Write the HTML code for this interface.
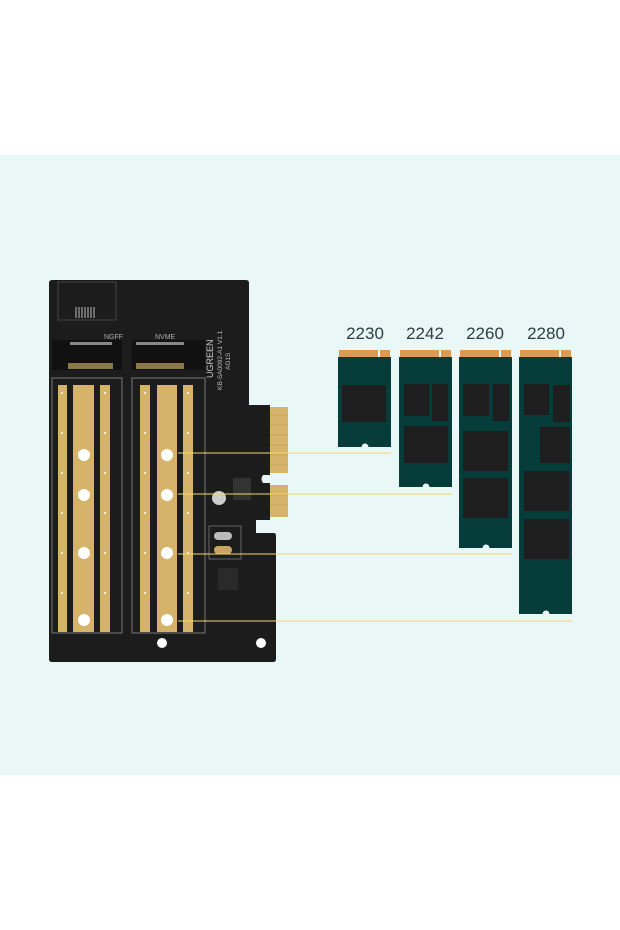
<!DOCTYPE html>
<html><head><meta charset="utf-8"><style>
html,body{margin:0;padding:0;background:#fff;width:620px;height:930px;overflow:hidden}
svg{display:block}
</style></head><body>
<svg width="620" height="930" xmlns="http://www.w3.org/2000/svg" font-family="Liberation Sans, sans-serif">
<rect x="0" y="0" width="620" height="930" fill="#fff"/>
<rect x="0" y="155" width="620" height="620" fill="#e9f7f7"/>
<path d="M52,280 L246,280 Q249,280 249,283 L249,405 L270,405 L270,475 L263,475 Q260,479 263,483 L270,483 L270,520 L256,520 L256,533 L274,533 Q276,533 276,536 L276,659 Q276,662 273,662 L52,662 Q49,662 49,659 L49,283 Q49,280 52,280 Z" fill="#1c1c1c"/>
<rect x="270" y="407" width="18" height="66" fill="#d6b36a"/>
<rect x="270" y="485" width="18" height="32" fill="#d6b36a"/>
<g stroke="#b8954e" stroke-width="0.6">
<line x1="270" y1="415" x2="288" y2="415"/><line x1="270" y1="425" x2="288" y2="425"/><line x1="270" y1="435" x2="288" y2="435"/><line x1="270" y1="445" x2="288" y2="445"/><line x1="270" y1="455" x2="288" y2="455"/><line x1="270" y1="465" x2="288" y2="465"/><line x1="270" y1="495" x2="288" y2="495"/><line x1="270" y1="505" x2="288" y2="505"/>
</g>
<rect x="58" y="282" width="58" height="38" fill="none" stroke="#444" stroke-width="1"/>
<g stroke="#bbb" stroke-width="1"><line x1="76" y1="307" x2="76" y2="318"/><line x1="79" y1="307" x2="79" y2="318"/><line x1="82" y1="307" x2="82" y2="318"/><line x1="85" y1="307" x2="85" y2="318"/><line x1="88" y1="307" x2="88" y2="318"/><line x1="91" y1="307" x2="91" y2="318"/><line x1="94" y1="307" x2="94" y2="318"/></g>
<text x="104" y="339" font-size="7" fill="#aaa">NGFF</text>
<text x="155" y="339" font-size="7" fill="#aaa">NVME</text>
<rect x="52" y="340" width="70" height="30" fill="#111"/>
<rect x="132" y="340" width="73" height="30" fill="#111"/>
<rect x="70" y="342" width="42" height="3" fill="#888"/>
<rect x="136" y="342" width="48" height="3" fill="#888"/>
<rect x="68" y="363" width="45" height="6" fill="#8a7a4a"/>
<rect x="136" y="363" width="48" height="6" fill="#8a7a4a"/>
<text x="0" y="0" font-size="9" fill="#ccc" transform="translate(213,378) rotate(-90)">UGREEN</text>
<text x="0" y="0" font-size="6.5" fill="#bbb" transform="translate(222,390) rotate(-90)">KB-SA0092-A1 V1.1</text>
<text x="0" y="0" font-size="6.5" fill="#bbb" transform="translate(230,370) rotate(-90)">AG1S</text>
<rect x="52" y="378" width="70" height="255" fill="none" stroke="#777" stroke-width="1"/>
<rect x="132" y="378" width="73" height="255" fill="none" stroke="#777" stroke-width="1"/>
<g fill="#d6b36a">
<rect x="58" y="385" width="9" height="247"/><rect x="73" y="385" width="21" height="247"/><rect x="100" y="385" width="10" height="247"/>
<rect x="140" y="385" width="10" height="247"/><rect x="157" y="385" width="20" height="247"/><rect x="183" y="385" width="10" height="247"/>
</g>
<g fill="#fff">
<circle cx="84" cy="455" r="6"/><circle cx="84" cy="495" r="6"/><circle cx="84" cy="553" r="6"/><circle cx="84" cy="620" r="6"/>
<circle cx="167" cy="455" r="6"/><circle cx="167" cy="495" r="6"/><circle cx="167" cy="553" r="6"/><circle cx="167" cy="620" r="6"/>
<circle cx="162" cy="643" r="5"/><circle cx="261" cy="643" r="5"/>
</g>
<g fill="#fff">
<circle cx="62" cy="393" r="1"/><circle cx="62" cy="433" r="1"/><circle cx="62" cy="473" r="1"/><circle cx="62" cy="513" r="1"/><circle cx="62" cy="553" r="1"/><circle cx="62" cy="593" r="1"/>
<circle cx="105" cy="393" r="1"/><circle cx="105" cy="433" r="1"/><circle cx="105" cy="473" r="1"/><circle cx="105" cy="513" r="1"/><circle cx="105" cy="553" r="1"/><circle cx="105" cy="593" r="1"/>
<circle cx="145" cy="393" r="1"/><circle cx="145" cy="433" r="1"/><circle cx="145" cy="473" r="1"/><circle cx="145" cy="513" r="1"/><circle cx="145" cy="553" r="1"/><circle cx="145" cy="593" r="1"/>
<circle cx="188" cy="393" r="1"/><circle cx="188" cy="433" r="1"/><circle cx="188" cy="473" r="1"/><circle cx="188" cy="513" r="1"/><circle cx="188" cy="553" r="1"/><circle cx="188" cy="593" r="1"/>
</g>
<circle cx="219" cy="498" r="7" fill="#ccc"/>
<rect x="209" y="526" width="32" height="33" fill="none" stroke="#666"/>
<rect x="214" y="532" width="18" height="8" rx="4" fill="#bbb"/>
<rect x="214" y="546" width="18" height="8" rx="4" fill="#c9a560"/>
<rect x="233" y="478" width="18" height="22" fill="#333"/>
<rect x="218" y="568" width="20" height="22" fill="#2a2a2a"/>
<g stroke="#f3d86a" stroke-width="1">
<line x1="178" y1="453" x2="391" y2="453"/>
<line x1="178" y1="494" x2="452" y2="494"/>
<line x1="178" y1="554" x2="512" y2="554"/>
<line x1="178" y1="621" x2="572" y2="621"/>
</g>
<g font-size="17" fill="#2c3e44" text-anchor="middle">
<text x="365" y="339">2230</text><text x="425" y="339">2242</text><text x="485" y="339">2260</text><text x="546" y="339">2280</text>
</g>
<g fill="#dd9a55">
<rect x="339" y="350" width="39" height="7"/><rect x="380" y="350" width="10" height="7"/>
<rect x="400" y="350" width="39" height="7"/><rect x="441" y="350" width="10" height="7"/>
<rect x="460" y="350" width="39" height="7"/><rect x="501" y="350" width="10" height="7"/>
<rect x="520" y="350" width="39" height="7"/><rect x="561" y="350" width="10" height="7"/>
</g>
<g fill="#063c3a">
<rect x="338" y="357" width="53" height="90"/>
<rect x="399" y="357" width="53" height="130"/>
<rect x="459" y="357" width="53" height="191"/>
<rect x="519" y="357" width="53" height="257"/>
</g>
<g fill="#e9f7f7">
<circle cx="365" cy="447" r="3.5"/><circle cx="426" cy="487" r="3.5"/><circle cx="486" cy="548" r="3.5"/><circle cx="546" cy="614" r="3.5"/>
</g>
<g fill="#1e1e1e">
<rect x="342" y="385" width="44" height="37"/>
<rect x="404" y="384" width="25" height="32"/><rect x="432" y="384" width="16" height="37"/><rect x="404" y="426" width="44" height="37"/>
<rect x="463" y="384" width="26" height="32"/><rect x="493" y="384" width="16" height="37"/><rect x="463" y="431" width="45" height="40"/><rect x="463" y="478" width="45" height="40"/>
<rect x="524" y="384" width="25" height="31"/><rect x="553" y="385" width="17" height="37"/><rect x="540" y="427" width="30" height="36"/><rect x="524" y="471" width="45" height="40"/><rect x="524" y="519" width="45" height="40"/>
</g>
</svg>
</body></html>
